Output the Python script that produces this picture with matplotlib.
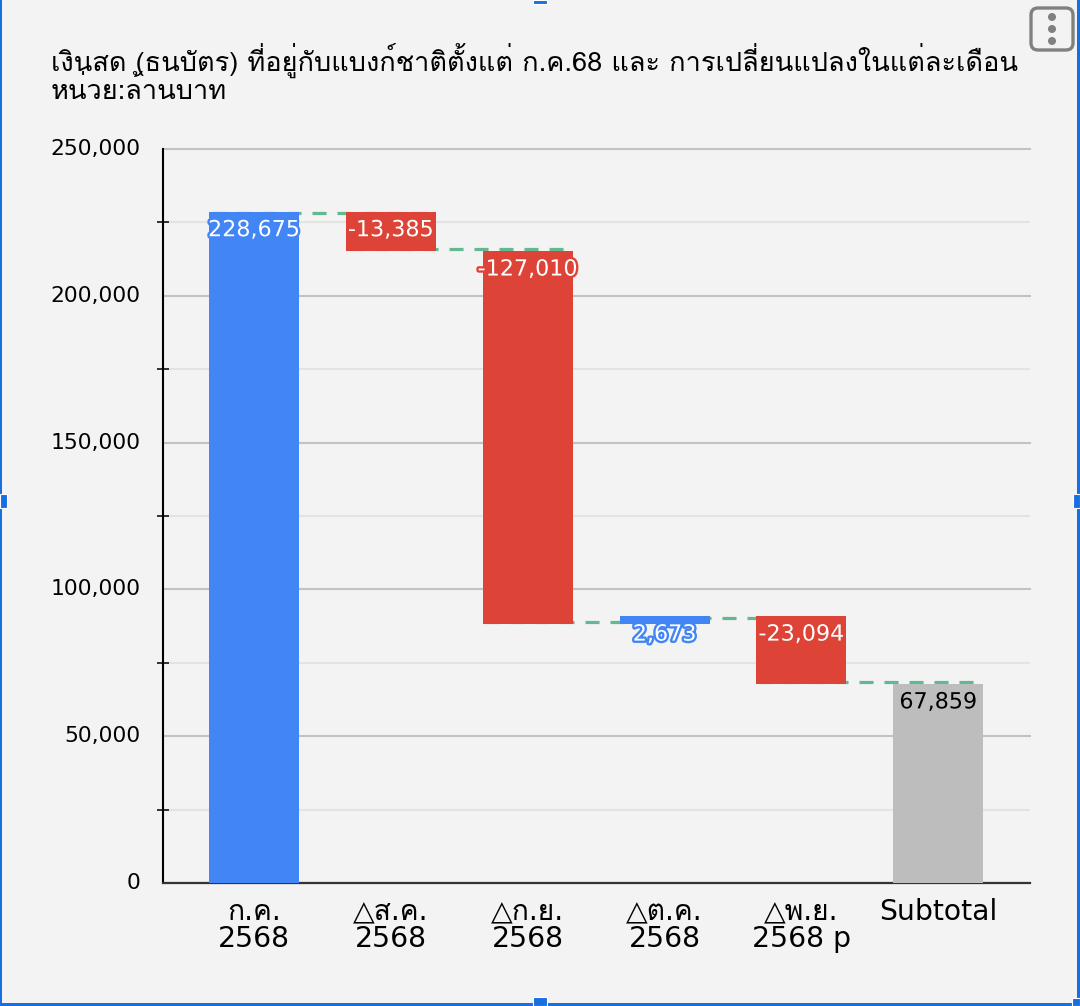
import matplotlib
matplotlib.use('Agg')
import matplotlib.pyplot as plt
from matplotlib.patches import Rectangle, FancyBboxPatch, Circle
from matplotlib.ticker import FuncFormatter, MultipleLocator
from matplotlib.transforms import offset_copy
import matplotlib.patheffects as pe

W, H = 1080, 1006
BG = '#f3f3f3'
plt.rcParams['lines.scale_dashes'] = False
FONT = ['DejaVu Sans', 'Loma']
plt.rcParams['font.family'] = FONT

title_lines = ['เงินสด (ธนบัตร) ที่อยู่กับแบงก์ชาติตั้งแต่ ก.ค.68 และ การเปลี่ยนแปลงในแต่ละเดือน',
               'หน่วย:ล้านบาท']
categories = ['ก.ค.\n2568', '△ส.ค.\n2568', '△ก.ย.\n2568', '△ต.ค.\n2568', '△พ.ย.\n2568 p', 'Subtotal']
values = [228675, -13385, -127010, 2673, -23094, 67859]
kinds = ['up', 'down', 'down', 'up', 'down', 'total']
y_major = 50000
y_minor = 25000
y_max = 250000

colors = {'up': '#4285f4', 'down': '#dd4437', 'total': '#bdbdbd'}
text_colors = {'up': 'white', 'down': 'white', 'total': 'black'}
halo_colors = {'up': '#4285f4', 'down': '#dd4437', 'total': '#bdbdbd'}

fig = plt.figure(figsize=(W / 100, H / 100), dpi=100, facecolor=BG)
ax = fig.add_axes([163 / W, 1 - 883 / H, (1030 - 163) / W, (883 - 149) / H], facecolor=BG)

STEP = 136.85
BAR_W = 90 / STEP
ax.set_xlim((163 - 254) / STEP, (1030 - 254) / STEP)
ax.set_ylim(0, y_max)

# running totals
bottoms, tops, levels = [], [], []
run = 0
for v, k in zip(values, kinds):
    if k == 'total':
        bottoms.append(0); tops.append(v); levels.append(v)
    else:
        new = run + v
        bottoms.append(min(run, new)); tops.append(max(run, new))
        run = new
        levels.append(run)

xs = list(range(len(values)))
ax.bar(xs, [t - b for t, b in zip(tops, bottoms)], bottom=bottoms, width=BAR_W,
       color=[colors[k] for k in kinds], zorder=4, linewidth=0)

# connectors: each line sits just inside the bar it leaves
for i in range(len(values) - 1):
    inset = -1.3 if values[i] > 0 else 1.6
    conn_tf = offset_copy(ax.transData, fig=fig, x=0, y=inset, units='points')
    ax.plot([i - BAR_W / 2 + 0.02, i + 1 + BAR_W / 2 - 0.06], [levels[i], levels[i]],
            color='#63b98f', lw=2.3, dashes=(10.1, 7.9), dash_capstyle='butt',
            transform=conn_tf, zorder=3)

# labels
for x, t, v, k in zip(xs, tops, values, kinds):
    txt = ax.annotate(f'{v:,}', (x, t), xytext=(0, -13.4), textcoords='offset points',
                      ha='center', va='center', fontsize=16, color=text_colors[k],
                      zorder=6, family=FONT)
    txt.set_path_effects([pe.withStroke(linewidth=3.4, foreground=halo_colors[k])])

# axes styling
ax.yaxis.set_major_locator(MultipleLocator(y_major))
ax.yaxis.set_minor_locator(MultipleLocator(y_minor))
ax.yaxis.set_major_formatter(FuncFormatter(lambda v, _: f'{int(v):,}'))
ax.grid(True, which='major', axis='y', color='#c2c2c2', lw=1.5, zorder=1, clip_on=False)
ax.grid(True, which='minor', axis='y', color='#e3e3e3', lw=1.5, zorder=1)
ax.set_axisbelow(True)
ax.tick_params(axis='y', which='major', length=0, pad=16, labelsize=15.7)
ax.tick_params(axis='y', which='minor', length=8, width=1.1, color='black', direction='inout')
for lab in ax.get_yticklabels():
    lab.set_verticalalignment('center')
ax.set_xticks(xs)
ax.set_xticklabels(categories, fontsize=20.3, linespacing=0.92)
ax.tick_params(axis='x', length=0, pad=11)
for s in ('top', 'right'):
    ax.spines[s].set_visible(False)
ax.spines['left'].set_color('black')
ax.spines['left'].set_linewidth(1.5)
ax.spines['bottom'].set_color('#333333')
ax.spines['bottom'].set_linewidth(1.6)

# title
TITLE_FONT = ['Loma', 'DejaVu Sans']
fig.text(51 / W, 1 - 60 / H, title_lines[0], fontsize=19.55, family=TITLE_FONT, va='center', ha='left')
fig.text(51 / W, 1 - 90 / H, title_lines[1], fontsize=19.55, family=TITLE_FONT, va='center', ha='left')

# overlay: menu button and selection frame, in pixel coordinates
ov = fig.add_axes([0, 0, 1, 1], facecolor='none', zorder=10)
ov.set_xlim(0, W); ov.set_ylim(H, 0); ov.axis('off')
ov.add_patch(FancyBboxPatch((1037, 14), 30, 30, boxstyle='round,pad=6,rounding_size=7',
                            fc=BG, ec='#808080', lw=2.4))
for cy in (17, 29, 41):
    ov.add_patch(Circle((1052, cy), 4, fc='#808080', ec='none'))
BLUE = '#1a6fe0'
ov.add_patch(Rectangle((0, 0), 2, H, fc=BLUE, ec='none'))
ov.add_patch(Rectangle((1077, 0), 3, H, fc=BLUE, ec='none'))
ov.add_patch(Rectangle((0, 1003), W, 3, fc=BLUE, ec='none'))
for hx, hy, hw, hh in [(533, 0, 14, 4), (0, 494, 7, 14), (1073, 494, 7, 14), (533, 997, 14, 9), (1072, 998, 8, 8)]:
    ov.add_patch(Rectangle((hx, hy), hw, hh, fc=BLUE, ec='white', lw=0.8))

fig.savefig('out.png', dpi=100, facecolor=BG)
